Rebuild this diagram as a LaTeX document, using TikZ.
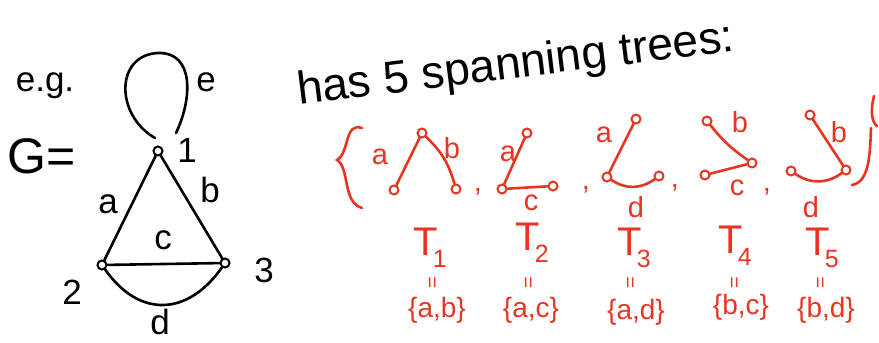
\documentclass[tikz,border=0pt]{standalone}
\usepackage{fontspec}
\setmainfont{Liberation Sans}
\usetikzlibrary{positioning}
\definecolor{penred}{RGB}{232,52,35}
\newcommand{\tname}[1]{T\kern-0.12em\raisebox{-0.3em}{\fontsize{25}{25}\selectfont #1}}

\begin{document}
\begin{tikzpicture}[
    x=1pt, y=-1pt,
    vtx/.style={circle, draw, line width=2pt, inner sep=0pt, minimum size=9pt},
    tvtx/.style={vtx, draw=penred},
    gline/.style={line width=2.6pt, line cap=round},
    tline/.style={gline, penred},
    lbl/.style={font=\fontsize{35}{35}\selectfont},
    tlbl/.style={text=penred, font=\fontsize{29}{29}\selectfont},
    tT/.style={text=penred, font=\fontsize{40}{40}\selectfont, inner sep=1pt},
    tset/.style={text=penred, font=\fontsize{28}{28}\selectfont}
]
\useasboundingbox (0,0) rectangle (879,343);

% the graph G
\node[lbl] (eg) at (45,86) {e.g.};
\node[lbl, font=\fontsize{50}{50}\selectfont] (G) at (42,156) {G=};
\node[vtx] (v1) at (158,151) {};
\node[vtx] (v2) at (102,265) {};
\node[vtx] (v3) at (225,263) {};
\node[lbl] (n1) at (187,150) {1};
\node[lbl] (n2) at (72,292) {2};
\node[lbl] (n3) at (264,270) {3};

% loop e, its ends stop just short of vertex 1
\coordinate (estart) at (155,138);
\coordinate (eend) at (176,133);
\draw[gline] (estart) .. controls (115,115) and (115,55) .. (158,53)
             .. controls (195,52) and (192,100) .. (eend);
\draw[gline] (v1) -- (v2);
\draw[gline] (v1) -- (v3);
\draw[gline] (v2) -- (v3);
\draw[gline] (v2) to[out=-55, in=-125, looseness=1.3] (v3);
\node[lbl] (le) at (206,82) {e};
\node[lbl] (la) at (108,204) {a};
\node[lbl] (lb) at (210,190) {b};
\node[lbl] (lc) at (163,240) {c};
\node[lbl] (ld) at (160,322) {d};

% heading
\node[rotate=7, font=\fontsize{46}{46}\selectfont] (head) at (516,66) {has 5 spanning trees:};

% braces round the list
\draw[tline] (362,128) .. controls (344,122) and (350,152) .. (337,160)
             .. controls (350,168) and (342,202) .. (362,208);
\draw[tline] (874,96) .. controls (870,112) and (872,122) .. (877,126);
\draw[tline] (871,128) .. controls (870,160) and (868,182) .. (852,185);

% T1
\node[tvtx] (t1top) at (422,133) {};
\node[tvtx] (t1l) at (394,190) {};
\node[tvtx] (t1r) at (456,189) {};
\draw[tline] (t1top) -- (t1l);
\draw[tline] (t1top) to[bend left=15] (t1r);
\node[tlbl] (t1a) at (380,157) {a};
\node[tlbl] (t1b) at (452,148) {b};
\node[tlbl] (k1) at (478,192) {,};

% T2
\node[tvtx] (t2top) at (527,133) {};
\node[tvtx] (t2l) at (502,189) {};
\node[tvtx] (t2r) at (553,186) {};
\draw[tline] (t2top) -- (t2l);
\draw[tline] (t2l) -- (t2r);
\node[tlbl] (t2a) at (508,154) {a};
\node[tlbl] (t2c) at (531,203) {c};
\node[tlbl] (k2) at (586,190) {,};

% T3
\node[tvtx] (t3top) at (636,119) {};
\node[tvtx] (t3l) at (607,177) {};
\node[tvtx] (t3r) at (659,176) {};
\draw[tline] (t3top) -- (t3l);
\draw[tline] (t3l) to[bend right=35] (t3r);
\node[tlbl] (t3a) at (604,135) {a};
\node[tlbl] (t3d) at (636,207) {d};
\node[tlbl] (k3) at (675,188) {,};

% T4
\node[tvtx] (t4top) at (707,121) {};
\node[tvtx] (t4r) at (752,163) {};
\node[tvtx] (t4l) at (705,175) {};
\draw[tline] (t4top) to[bend right=8] (t4r);
\draw[tline] (t4l) -- (t4r);
\node[tlbl] (t4b) at (740,122) {b};
\node[tlbl] (t4c) at (737,188) {c};
\node[tlbl] (k4) at (767,192) {,};

% T5
\node[tvtx] (t5top) at (810,115) {};
\node[tvtx] (t5r) at (846,170) {};
\node[tvtx] (t5l) at (791,171) {};
\draw[tline] (t5top) -- (t5r);
\draw[tline] (t5l) to[bend right=35] (t5r);
\node[tlbl] (t5b) at (839,132) {b};
\node[tlbl] (t5d) at (811,207) {d};

% names and edge sets
\node[tT] (T1) at (430,248) {\tname{1}};
\node[tT] (T2) at (532,243) {\tname{2}};
\node[tT] (T3) at (634,248) {\tname{3}};
\node[tT] (T4) at (735,246) {\tname{4}};
\node[tT] (T5) at (822,248) {\tname{5}};
\foreach \x/\n in {434/1, 530/2, 632/3, 736/4, 822/5}
  \node[tlbl, font=\fontsize{20}{20}\selectfont, rotate=90, inner sep=1pt] (eq\n) at (\x,283) {=};
\node[tset] (s1) at (437,310) {\{a,b\}};
\node[tset] (s2) at (531,310) {\{a,c\}};
\node[tset] (s3) at (636,312) {\{a,d\}};
\node[tset] (s4) at (741,307) {\{b,c\}};
\node[tset] (s5) at (826,310) {\{b,d\}};

\end{tikzpicture}
\end{document}
